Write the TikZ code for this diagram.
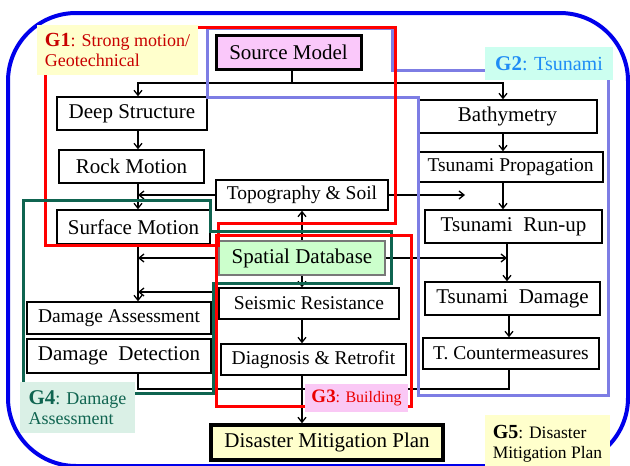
\documentclass[tikz,border=0pt]{standalone}
\usepackage{fontspec}
\setmainfont{Liberation Serif}
\usetikzlibrary{arrows.meta,calc}
\definecolor{bluebd}{RGB}{0,0,235}
\definecolor{gred}{RGB}{255,0,0}
\definecolor{gpurp}{RGB}{125,125,228}
\definecolor{ggreen}{RGB}{15,100,80}
\definecolor{lyellow}{RGB}{255,255,204}
\definecolor{lcyan}{RGB}{204,255,240}
\definecolor{lmint}{RGB}{218,240,230}
\definecolor{lpink}{RGB}{250,200,245}
\definecolor{srcfill}{RGB}{250,200,250}
\definecolor{spfill}{RGB}{204,255,204}
\definecolor{spbd}{RGB}{120,120,120}
\definecolor{gonetxt}{RGB}{200,0,0}
\definecolor{gtwotxt}{RGB}{30,140,245}
\definecolor{gthreetxt}{RGB}{235,0,0}
\begin{document}
\begin{tikzpicture}[x=1pt,y=-1pt,
  box/.style={draw=black, line width=1.4pt, fill=white, inner sep=0pt, font=\fontsize{21}{24}\selectfont},
  sbox/.style={box, font=\fontsize{19.5}{22}\selectfont},
  arr/.style={line width=1.3pt, -{Straight Barb[length=5pt,width=8pt]}},
  ln/.style={line width=1.3pt},
  lab/.style={inner sep=0pt, font=\fontsize{18}{20}\selectfont}
]
\useasboundingbox (0,0) rectangle (630,466);
% outer frame
\draw[bluebd, line width=4pt, rounded corners=68pt] (8,13) rectangle (628,466);

% coordinates for connector columns
\coordinate (xL) at (138,0);
\coordinate (xM) at (302,0);
\coordinate (xS) at (292,0);
\coordinate (xRa) at (503,0);
\coordinate (xRb) at (507,0);
\coordinate (xRc) at (509,0);
\coordinate (jS) at (292,83);
\coordinate (jB) at (302,389);
\coordinate (topoEnd) at (465,195);

% nodes
\node[box, line width=3pt, fill=srcfill, minimum width=145, minimum height=34] (src) at (288.5,52) {Source Model};
\node[box, minimum width=150, minimum height=33] (deep) at (132,113.5) {Deep Structure};
\node[box, minimum width=145, minimum height=33] (rock) at (131.5,166.5) {Rock Motion};
\node[sbox, minimum width=172, minimum height=30] (topo) at (302,195) {Topography \& Soil};
\node[box, minimum width=153, minimum height=34] (surf) at (133.5,227) {Surface Motion};
\node[box, draw=spbd, line width=2.2pt, fill=spfill, minimum width=166, minimum height=34] (spat) at (302,258) {Spatial Database};
\node[sbox, minimum width=180, minimum height=31] (seis) at (309,303.5) {Seismic Resistance};
\node[sbox, minimum width=185, minimum height=31] (diag) at (313.5,359.5) {Diagnosis \& Retrofit};
\node[sbox, minimum width=184, minimum height=32] (dass) at (119,318) {Damage Assessment};
\node[box, minimum width=184, minimum height=34] (ddet) at (119,356) {Damage\ \ Detection};
\node[box, line width=3.5pt, fill=lyellow, minimum width=232, minimum height=35] (dmp) at (327,442.5) {Disaster Mitigation Plan};
\node[box, minimum width=179, minimum height=33] (bath) at (507.5,116.5) {Bathymetry};
\node[sbox, minimum width=185, minimum height=30] (prop) at (510.5,167) {Tsunami Propagation};
\node[box, minimum width=177, minimum height=33] (runup) at (513.5,226.5) {Tsunami\ \ Run-up};
\node[box, minimum width=175, minimum height=33] (tdam) at (512.5,298.5) {Tsunami\ \ Damage};
\node[sbox, minimum width=176, minimum height=31] (tcm) at (511,353.5) {T. Countermeasures};

% connectors
\draw[ln] (src.south -| xS) -- (jS);
\draw[arr] (jS) -| (deep.north -| xL);
\draw[arr] (jS) -| (bath.north -| xRa);
\draw[arr] (deep.south -| xL) -- (rock.north -| xL);
\draw[arr] (rock.south -| xL) -- (surf.north -| xL);
\draw[arr] (topo.west) -- (topo.west -| xL);
\draw[arr] (topo.east) -- (topoEnd);
\draw[arr] (spat.north -| xM) -- (topo.south -| xM);
\draw[arr] (spat.south -| xM) -- (seis.north -| xM);
\draw[arr] (spat.west) -- (spat.west -| xL);
\draw[arr] (spat.east) -- (spat.east -| xRb);
\draw[arr] (surf.south -| xL) -- (dass.north -| xL);
\draw[arr, shorten <=6pt] ($(seis.west)+(0,-11.5)$) -- ($(seis.west -| xL)+(0,-11.5)$);
\draw[arr] (seis.south -| xM) -- (diag.north -| xM);
\draw[arr] (diag.south -| xM) -- (dmp.north -| xM);
\draw[ln] (ddet.south -| xL) |- (jB);
\draw[ln] (tcm.south -| xRc) |- (jB);
\draw[arr] (bath.south -| xRa) -- (prop.north -| xRa);
\draw[arr] (prop.south -| xRa) -- (runup.north -| xRa);
\draw[arr] (runup.south -| xRb) -- (tdam.north -| xRb);
\draw[arr] (tdam.south -| xRc) -- (tcm.north -| xRc);

% group outlines
\draw[gpurp, line width=3pt] (207,28) -- (392,28) -- (392,70) -- (608,70) -- (608,395) -- (418,395) -- (418,97) -- (207,97) -- cycle;
\draw[gred, line width=3pt] (45,27) -- (395,27) -- (395,223) -- (218,223) -- (218,245) -- (45,245) -- cycle;
\draw[ggreen, line width=3pt] (23,200) -- (210,200) -- (210,231) -- (391,231) -- (391,283) -- (213,283) -- (213,393) -- (23,393) -- cycle;
\draw[gred, line width=3pt] (216,235) rectangle (411,406);

% group labels
\node[lab, fill=lyellow, text=gonetxt, minimum width=161, minimum height=50, align=left] (gone) at (117.5,50) {{\fontsize{20}{20}\selectfont\bfseries G1}: Strong motion/\\Geotechnical};
\node[lab, fill=lcyan, text=gtwotxt, minimum width=128, minimum height=33, font=\fontsize{20}{22}\selectfont] (gtwo) at (549,63.5) {{\fontsize{21}{21}\selectfont\bfseries G2}: Tsunami};
\node[lab, fill=lmint, text=ggreen, minimum width=115, minimum height=51, align=left] (gfour) at (77.5,407.5) {{\fontsize{21}{21}\selectfont\bfseries G4}: Damage\\Assessment};
\node[lab, fill=lpink, text=gthreetxt, minimum width=103, minimum height=28, font=\fontsize{16}{18}\selectfont] (gthree) at (356.5,398) {{\fontsize{19}{19}\selectfont\bfseries G3}: Building};
\node[lab, fill=lyellow, text=black, minimum width=125, minimum height=57, align=left, font=\fontsize{17.5}{20}\selectfont] (gfive) at (547.5,443.5) {{\fontsize{20}{20}\selectfont\bfseries G5}: Disaster\\Mitigation Plan};
\end{tikzpicture}
\end{document}
